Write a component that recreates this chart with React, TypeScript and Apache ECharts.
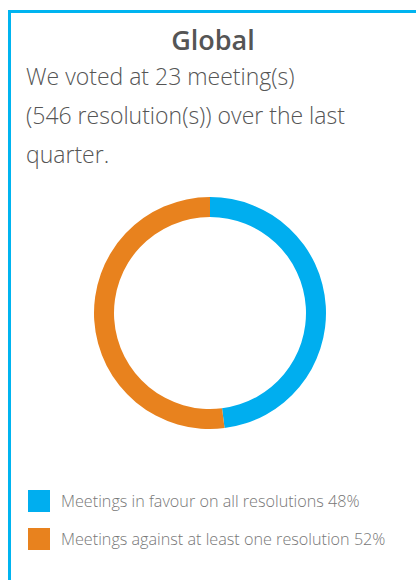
import React, { useEffect, useRef } from "react";
import * as echarts from "echarts";

const title = "Global";
const introLines = [
  "We voted at 23 meeting(s)",
  "(546 resolution(s)) over the last",
  "quarter.",
];
const categories = [
  "Meetings in favour on all resolutions",
  "Meetings against at least one resolution",
];
const values = [48, 52];
const colors = ["#00AEEF", "#E8821E"];

export default function App() {
  const ref = useRef<HTMLDivElement>(null);
  useEffect(() => {
    if (!ref.current) return;
    const chart = echarts.init(ref.current, undefined, { renderer: "svg" });
    const font = "'Open Sans', 'Segoe UI', sans-serif";
    chart.setOption({
      animation: false,
      color: colors,
      legend: {
        orient: "vertical",
        left: 28,
        top: 490,
        padding: 0,
        itemWidth: 22,
        itemHeight: 22,
        itemGap: 16,
        icon: "rect",
        selectedMode: false,
        formatter: (name: string) => {
          const i = categories.indexOf(name);
          return `${name} ${values[i]}%`;
        },
        textStyle: {
          color: "#777777",
          fontSize: 16.2,
          fontFamily: font,
          fontWeight: 300,
          padding: [0, 0, 0, 6],
        },
        data: categories,
      },
      graphic: [
        {
          type: "line",
          shape: { x1: 9.5, y1: 10, x2: 9.5, y2: 580 },
          style: { stroke: "#00B4F0", lineWidth: 3 },
        },
        {
          type: "line",
          shape: { x1: 8, y1: 11.5, x2: 416, y2: 11.5 },
          style: { stroke: "#00B4F0", lineWidth: 3 },
        },
        {
          type: "text",
          x: 213,
          y: 39,
          style: {
            text: title,
            fill: "#555555",
            font: `600 27px ${font}`,
            textAlign: "center",
            textVerticalAlign: "middle",
          },
        },
        ...introLines.map((t, i) => ({
          type: "text",
          x: 26,
          y: 76 + i * 39,
          style: {
            text: t,
            fill: "#555555",
            font: `300 23px ${font}`,
            textAlign: "left",
            textVerticalAlign: "middle",
          },
        })),
      ],
      series: [
        {
          type: "pie",
          center: [210, 313],
          radius: [96, 116],
          startAngle: 90,
          clockwise: true,
          label: { show: false },
          labelLine: { show: false },
          emphasis: { disabled: true },
          itemStyle: { borderWidth: 0 },
          data: categories.map((name, i) => ({ name, value: values[i] })),
        },
      ],
    });
    return () => chart.dispose();
  }, []);
  return (
    <div
      ref={ref}
      style={{ position: "fixed", left: 0, top: 0, width: 416, height: 580, background: "#fff" }}
    />
  );
}
